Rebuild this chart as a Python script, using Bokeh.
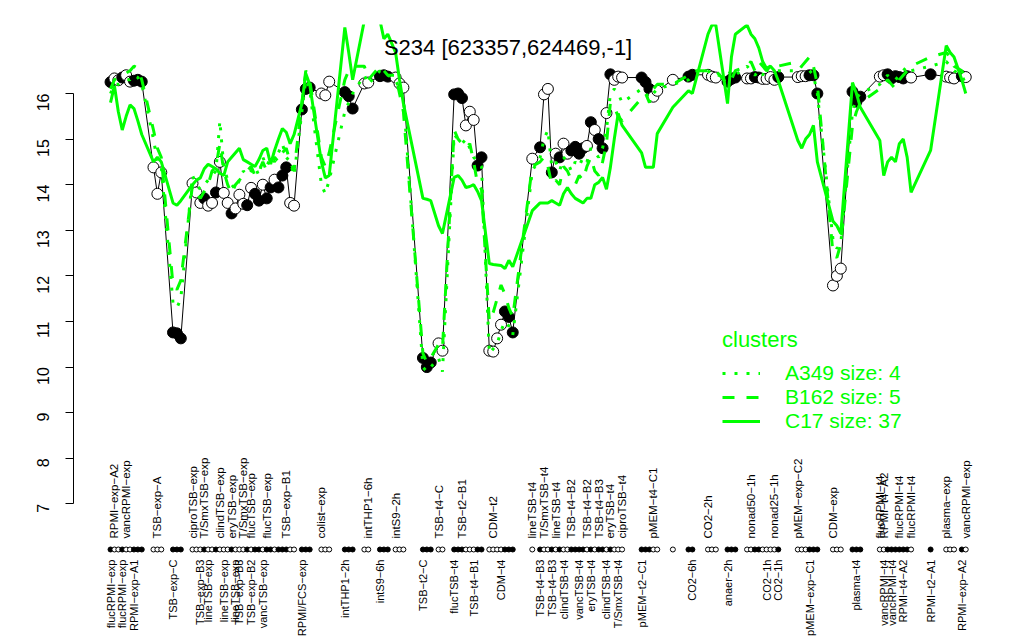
import math
from bokeh.plotting import figure
from bokeh.models import LinearAxis, FixedTicker, Range1d, Label, Legend, LegendItem
from bokeh.core.properties import value
from bokeh.embed import file_html
from bokeh.resources import INLINE

FONT = "Liberation Sans"
GREEN = "#00FF00"

title_text = "S234 [623357,624469,-1]"

# sample order positions (conditions grouped, gaps between experiment groups)
sample_pos = [
    0, 1, 2, 3, 4, 5, 6, 7, 8,
    11, 12, 13,
    16, 17, 18,
    21, 22, 23, 24, 25, 26, 27, 28, 29, 30, 31, 32, 33, 34, 35, 36, 37, 38, 39, 40, 41, 42, 43, 44, 45, 46, 47,
    49, 50, 51,
    54, 55, 56,
    60, 61, 62,
    65, 66,
    69, 70, 71,
    73, 74, 75,
    80, 81, 82,
    84, 85,
    88, 89, 90, 91, 92, 93, 94, 95,
    97, 98, 99, 100, 101, 102, 103,
    108,
    110, 111, 112, 113, 114, 115, 116, 117, 118, 119, 120, 121, 122, 123, 124, 125, 126, 127, 128, 129, 130, 131,
    136, 137, 138, 139, 140,
    144,
    148, 149,
    153, 154, 155,
    158, 159, 160,
    163, 164, 165, 166, 167, 168, 169, 170, 171,
    176, 177, 178, 179, 180, 181,
    185, 186, 187,
    190, 191, 192,
    197, 198, 199, 200, 201, 202, 203, 204, 205,
    210,
    214, 215, 216,
    218, 219,
]

expression = [
    16.25, 16.33, 16.29, 16.35, 16.40, 16.26, 16.28, 16.30, 16.26,
    14.38, 13.80, 14.27,
    10.76, 10.74, 10.63,
    14.03, 13.83, 13.60, 13.70, 13.54, 13.60, 13.83, 14.50, 13.82, 13.60, 13.37, 13.48, 13.78, 13.58,
    13.55, 13.93, 13.80, 13.65, 14.00, 13.70, 13.94, 14.11, 13.94, 14.20, 14.38, 13.60, 13.54,
    15.65, 16.10, 16.13,
    16.00, 15.96, 16.26,
    16.03, 15.94, 15.67,
    16.22, 16.24,
    16.38, 16.40, 16.37,
    16.35, 16.22, 16.13,
    10.20, 10.00, 10.10,
    10.52, 10.36,
    15.98, 16.00, 15.90, 15.30, 15.60, 15.42, 14.42, 14.60,
    10.36, 10.34, 10.63, 10.93, 11.22, 11.10, 10.76,
    14.57,
    14.82, 15.98, 16.10, 14.27, 14.68, 14.60, 14.90, 14.68, 14.75, 14.83, 14.68, 14.80, 14.85, 15.37,
    15.20, 15.00, 14.80, 15.57, 16.42, 16.30, 16.37, 16.35,
    16.35, 16.25, 16.10, 15.93, 16.06,
    16.30,
    16.37, 16.41,
    16.41, 16.37, 16.35,
    16.26, 16.32, 16.35,
    16.33, 16.33, 16.36, 16.35, 16.32, 16.32, 16.36, 16.30, 16.36,
    16.36, 16.38, 16.38, 16.40, 16.40, 16.00,
    11.79, 12.00, 12.16,
    16.04, 15.82, 15.93,
    16.37, 16.40, 16.42, 16.33, 16.38, 16.36, 16.33, 16.38, 16.35,
    16.42,
    16.37, 16.35, 16.33,
    16.38, 16.36,
]

in_cluster = [
    1, 0, 0, 1, 0, 0, 1, 1, 1,
    0, 0, 0,
    1, 1, 1,
    0, 0, 0, 1, 0, 0, 1, 0, 0, 0, 1, 0, 0, 0, 1, 0, 1, 1, 0, 1, 1, 0, 1, 1, 1, 0, 0,
    1, 1, 1,
    0, 0, 0,
    1, 1, 1,
    0, 0,
    1, 1, 1,
    0, 0, 0,
    1, 1, 1,
    0, 0,
    1, 1, 1, 0, 0, 0, 1, 1,
    0, 0, 0, 0, 1, 1, 1,
    0,
    1, 0, 0, 1, 0, 1, 0, 0, 1, 1, 1, 1, 0, 1, 0, 1, 1, 0, 1, 0, 0, 0,
    1, 1, 1, 0, 0,
    0,
    1, 1,
    0, 0, 0,
    1, 1, 1,
    0, 0, 1, 1, 0, 0, 0, 0, 1,
    0, 0, 0, 1, 1, 1,
    0, 0, 0,
    1, 1, 1,
    0, 0, 1, 1, 1, 1, 1, 1, 0,
    1,
    0, 0, 0,
    1, 0,
]

c17 = [
    15.8, 16.17, 15.6, 15.2, 15.5, 15.75, 15.67, 15.4, 15.1,
    14.5, 14.6, 14.5,
    13.6, 13.55, 13.65,
    14.0, 14.1, 14.15, 14.35, 14.45, 14.4, 14.35, 14.25, 14.2, 14.5, 14.6, 14.7, 14.8, 14.55,
    14.5, 14.45, 14.4, 14.55, 14.75, 14.8, 14.45, 14.75, 15.0, 15.23, 15.15, 14.9, 15.1,
    15.78, 16.44, 16.2,
    14.5, 14.15, 14.2,
    17.45, 16.9, 16.3,
    17.6, 17.8,
    17.6, 17.2, 17.3,
    16.9, 16.3, 15.78,
    13.7, 13.68, 13.65,
    13.1, 12.93,
    14.16, 14.2, 14.1, 13.94, 13.96, 14.0, 13.85, 13.65,
    12.27, 12.25, 12.24, 12.23, 12.16, 12.34, 12.2,
    13.43,
    13.6, 13.6, 13.6, 13.65, 13.6, 13.55, 13.8, 13.94, 13.8, 13.7, 13.65, 13.6, 13.7, 13.7,
    14.0, 14.05, 14.16, 13.9, 14.38, 15.0, 15.56, 15.3,
    14.7, 14.38, 14.38, 14.38, 15.12,
    15.7,
    16.06, 16.0,
    17.3, 17.5, 17.5,
    15.78, 16.8, 17.3,
    17.5, 17.3, 17.2, 17.0, 16.7, 16.55, 16.6, 16.5, 16.28,
    14.97, 14.8, 15.0, 15.1, 15.3, 14.5,
    13.2, 13.1, 12.93,
    16.24, 16.0, 15.7,
    14.97, 14.2, 14.5, 14.6, 14.5, 14.9, 15.0, 14.6, 13.83,
    14.75,
    17.05, 16.9, 16.8,
    16.3, 16.0,
]

b162 = [
    16.1, 16.3, 16.35, 16.4, 16.45, 16.5, 16.6, 16.55, 16.3,
    15.2, 14.8, 14.6,
    11.8, 11.7, 11.9,
    14.0, 13.8, 13.7, 13.85, 14.0, 14.3, 14.4, 14.9, 14.3, 14.0, 13.8, 14.0, 14.1, 14.2,
    14.3, 14.4, 14.2, 14.3, 14.5, 14.3, 14.5, 14.6, 14.5, 14.7, 14.8, 14.5, 14.3,
    15.8, 16.5, 16.3,
    14.6, 14.4, 14.7,
    16.3, 16.5, 16.6,
    16.6, 16.3,
    16.6, 16.5, 16.4,
    16.4, 16.0, 15.6,
    10.3, 10.1, 10.2,
    10.5, 10.4,
    15.2, 15.0, 14.9, 14.8, 14.9, 14.5, 14.0, 13.9,
    11.0, 11.2, 11.5, 11.8, 11.6, 11.3, 11.1,
    14.4,
    14.5, 14.6, 14.4, 14.0, 14.1, 14.0, 14.4, 14.3, 14.1, 14.0, 14.2, 14.1, 14.4, 14.6,
    14.3, 14.2, 14.5, 14.9, 15.8, 15.7, 15.5, 15.4,
    15.9, 16.0, 15.8, 16.1, 16.2,
    16.2,
    16.4, 16.5,
    16.5, 16.45, 16.5,
    16.2, 16.3, 16.5,
    16.6, 16.7, 16.5, 16.7, 16.6, 16.5, 16.55, 16.6, 16.6,
    16.7, 16.6, 16.7, 16.8, 16.6, 16.2,
    12.5, 12.4, 12.7,
    15.3, 15.6, 15.8,
    16.1, 16.2, 16.3, 16.2, 16.1, 16.3, 16.4, 16.5, 16.6,
    16.8,
    16.9, 16.8, 16.6,
    16.5, 16.3,
]

a349 = [
    16.0, 16.2, 16.2, 16.25, 16.3, 16.3, 16.4, 16.35, 16.2,
    15.0, 14.5, 14.4,
    11.4, 11.3, 11.5,
    14.2, 14.0, 13.9, 14.0, 14.1, 14.2, 14.3, 15.4, 14.4, 14.1, 14.0, 13.9, 14.1, 14.3,
    14.2, 14.3, 14.4, 14.2, 14.6, 14.4, 14.6, 14.5, 14.7, 14.9, 14.6, 14.5, 14.2,
    15.6, 16.3, 16.1,
    14.0, 13.8, 14.1,
    15.6, 15.8, 16.0,
    16.4, 16.2,
    16.5, 16.4, 16.4,
    16.3, 16.1, 15.9,
    10.0, 9.9, 10.0,
    10.2, 9.9,
    15.1, 15.0, 14.9, 15.0, 14.8, 14.6, 14.5, 14.4,
    10.3, 10.4, 10.5, 10.8, 11.0, 10.9, 10.7,
    14.3,
    14.6, 15.0, 15.2, 14.4, 14.5, 14.3, 14.6, 14.5, 14.3, 14.5, 14.4, 14.6, 14.5, 14.8,
    14.7, 14.6, 14.8, 15.2, 16.0, 16.1, 16.0, 15.8,
    16.1, 16.0, 15.9, 16.0, 16.1,
    16.2,
    16.3, 16.4,
    16.5, 16.4, 16.4,
    16.4, 16.5, 16.4,
    16.6, 16.5, 16.4, 16.5, 16.4, 16.6, 16.5, 16.5, 16.5,
    16.5, 16.6, 16.6, 16.5, 16.4, 16.0,
    12.8, 12.6, 12.7,
    15.6, 15.9, 16.0,
    16.2, 16.3, 16.4, 16.3, 16.3, 16.4, 16.5, 16.6, 16.5,
    16.6,
    16.7, 16.6, 16.5,
    16.4, 16.2,
]

top_labels = [
    "RPMI\u2212exp\u2212A2", "vancRPMI\u2212exp", "TSB\u2212exp\u2212A", "ciproTSB\u2212exp",
    "T/SmxTSB\u2212exp", "clindTSB\u2212exp", "eryTSB\u2212exp", "T/SmxTSB\u2212exp",
    "flucTSB\u2212exp", "flucTSB\u2212exp", "TSB\u2212exp\u2212B1", "colist\u2212exp",
    "intTHP1\u22126h", "intS9\u22122h", "TSB\u2212t4\u2212C", "TSB\u2212t2\u2212B1", "CDM\u2212t2",
    "lineTSB\u2212t4", "T/SmxTSB\u2212t4", "lineTSB\u2212t4", "TSB\u2212t4\u2212B2", "TSB\u2212t4\u2212B2",
    "TSB\u2212t4\u2212B3", "eryTSB\u2212t4", "ciproTSB\u2212t4", "pMEM\u2212t4\u2212C1", "CO2\u22122h",
    "nonad50\u22121h", "nonad25\u22121h", "pMEM\u2212exp\u2212C2", "CDM\u2212exp", "flucRPMI\u2212t4",
    "RPMI\u2212t4\u2212A2", "flucRPMI\u2212t4", "flucRPMI\u2212t4", "plasma\u2212exp", "vancRPMI\u2212exp",
]
top_label_pos = [1, 4, 12, 21, 24, 28, 31, 34, 36, 40, 45, 54, 66, 73, 84, 90, 98,
                 108, 111, 114, 118, 122, 125, 128, 131, 139, 153, 164, 170, 176, 185,
                 197, 198, 202, 205, 214, 219]

bottom_labels = [
    "flucRPMI\u2212exp", "flucRPMI\u2212exp", "RPMI\u2212exp\u2212A1", "TSB\u2212exp\u2212C",
    "TSB\u2212exp\u2212B3", "lineTSB\u2212exp", "lineTSB\u2212exp", "lineTSB\u2212exp", "TSB\u2212exp\u2212B3",
    "TSB\u2212exp\u2212B2", "vancTSB\u2212exp", "RPMI/FCS\u2212exp", "intTHP1\u22122h", "intS9\u22126h",
    "TSB\u2212t2\u2212C", "flucTSB\u2212t4", "TSB\u2212t4\u2212B1", "CDM\u2212t4", "TSB\u2212t4\u2212B3",
    "TSB\u2212t4\u2212B3", "clindTSB\u2212t4", "vancTSB\u2212t4", "eryTSB\u2212t4", "clindTSB\u2212t4",
    "T/SmxTSB\u2212t4", "pMEM\u2212t2\u2212C1", "CO2\u22126h", "anaer\u22122h", "CO2\u22121h", "CO2\u22121h",
    "pMEM\u2212exp\u2212C1", "plasma\u2212t4", "vancRPMI\u2212t4", "vancRPMI\u2212t4", "RPMI\u2212t4\u2212A2",
    "RPMI\u2212t2\u2212A1", "RPMI\u2212exp\u2212A2",
]
bottom_label_pos = [0, 3, 6, 16, 23, 25, 29, 32, 33, 36, 39, 49, 60, 69, 80, 88, 93, 100,
                    110, 113, 116, 120, 123, 127, 130, 136, 149, 158, 168, 171, 179, 191,
                    198, 200, 203, 210, 218]

cluster_names = ["A349 size: 4", "B162 size: 5", "C17 size: 37"]
y_ticks = [7, 8, 9, 10, 11, 12, 13, 14, 15, 16]

p = figure(width=1016, height=638, output_backend="svg", toolbar_location=None,
           x_range=Range1d(-9.48, 227.9), y_range=Range1d(4.048, 17.513),
           x_axis_type=None, y_axis_type=None,
           min_border_left=73, min_border_right=16, min_border_top=24, min_border_bottom=0,
           outline_line_color=None, background_fill_color="white", border_fill_color="white")
p.title.visible = False

yaxis = LinearAxis(ticker=FixedTicker(ticks=y_ticks), bounds=(7, 16),
                   major_tick_out=8, major_tick_in=0, minor_tick_line_color=None,
                   major_label_orientation=math.pi / 2, major_label_standoff=22,
                   major_label_text_font=FONT, major_label_text_font_size="16px",
                   major_label_text_color="black", axis_line_color="black",
                   major_tick_line_color="black", axis_line_width=1)
p.add_layout(yaxis, "left")

fills = ["black" if m else "white" for m in in_cluster]

p.line(sample_pos, expression, line_color="black", line_width=1)
p.scatter(sample_pos, expression, size=11, fill_color=fills, line_color="black", line_width=1)

rC = p.line(sample_pos, c17, line_color=GREEN, line_width=3)
rB = p.line(sample_pos, b162, line_color=GREEN, line_width=3, line_dash="12 12")
rA = p.line(sample_pos, a349, line_color=GREEN, line_width=3, line_dash="3 9")

# membership dot row below the plot
p.scatter(sample_pos, [6.0] * len(sample_pos), size=5, fill_color=fills,
          line_color="black", line_width=1)

p.text(x=top_label_pos, y=[6.24] * len(top_label_pos), text=top_labels, angle=math.pi / 2,
       text_align="left", text_baseline="middle", text_font=value(FONT),
       text_font_size="11.5px", text_color="black")
p.text(x=bottom_label_pos, y=[5.78] * len(bottom_label_pos), text=bottom_labels, angle=math.pi / 2,
       text_align="right", text_baseline="middle", text_font=value(FONT),
       text_font_size="11px", text_color="black")

p.add_layout(Label(x=101.8, y=17.0, text=title_text, text_align="center", text_baseline="middle",
                   text_font=FONT, text_font_size="22px", text_color="black"))

legend = Legend(items=[LegendItem(label=cluster_names[0], renderers=[rA]),
                       LegendItem(label=cluster_names[1], renderers=[rB]),
                       LegendItem(label=cluster_names[2], renderers=[rC])],
                title="clusters", location=(649, 205),
                title_text_font=FONT, title_text_font_size="22px", title_text_color=GREEN,
                title_text_font_style="normal", title_standoff=8,
                label_text_font=FONT, label_text_font_size="21px", label_text_color=GREEN,
                glyph_width=38, glyph_height=22, label_height=22, label_standoff=25,
                spacing=0, padding=0, margin=0, border_line_alpha=0, background_fill_alpha=0)
p.add_layout(legend)

open("out.html", "w").write(file_html(p, INLINE))
